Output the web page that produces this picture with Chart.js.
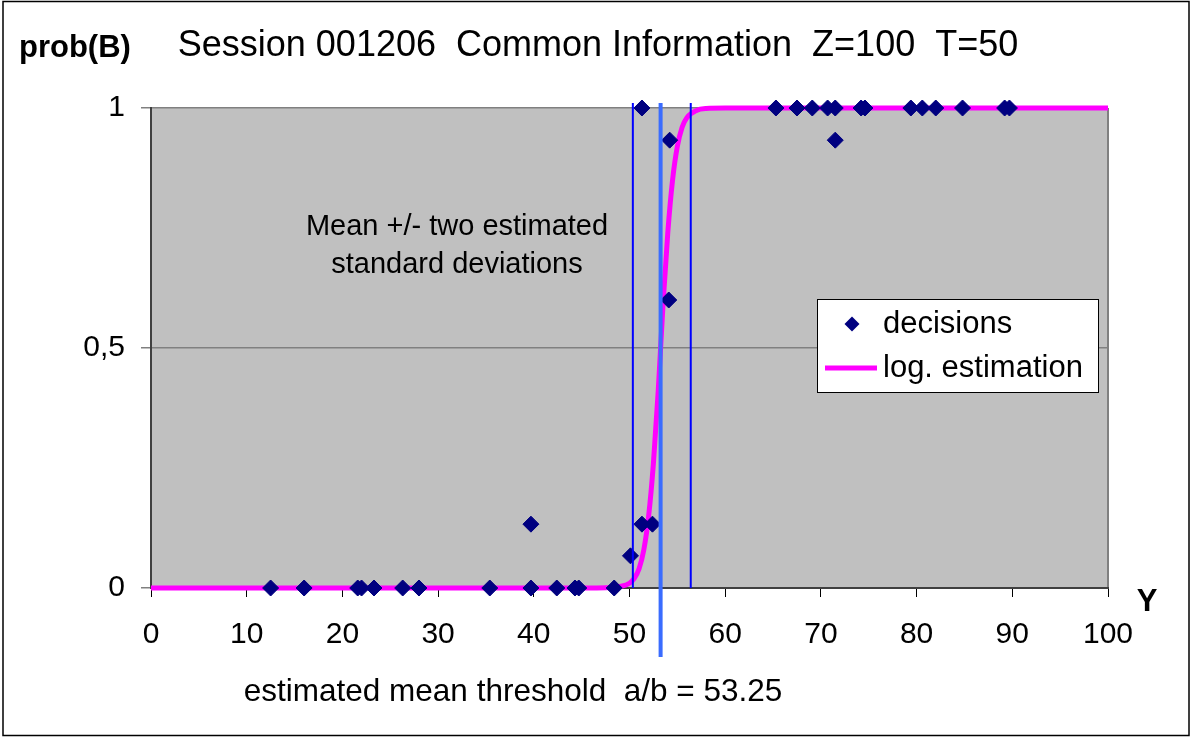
<!DOCTYPE html>
<html>
<head>
<meta charset="utf-8">
<script src="https://cdn.jsdelivr.net/npm/chart.js@4"></script>
<style>
  html, body { margin: 0; padding: 0; background: #fff; }
  canvas { display: block; }
</style>
</head>
<body>
<canvas id="probChart" width="1192" height="737"></canvas>
<script>
// decisions (Y value, share of B choices)
const decisionY = [12.5, 16.0, 21.6, 22.0, 23.3, 26.3, 28.0, 35.4, 39.7, 39.7, 42.4, 44.3, 44.7, 48.4,
                   50.1, 51.3, 52.4, 51.3, 54.1, 54.2, 65.3, 67.5, 69.1, 70.7, 71.5, 71.5, 74.2, 74.6,
                   79.4, 80.6, 82.0, 84.8, 89.2, 89.7];
const decisionP = [0, 0, 0, 0, 0, 0, 0, 0, 0, 0.133, 0, 0, 0, 0,
                   0.067, 0.133, 0.133, 1, 0.6, 0.933, 1, 1, 1, 1, 1, 0.933, 1, 1,
                   1, 1, 1, 1, 1, 1];

// logistic estimation
const curveY = [0, 46, 48, 49, 50, 50.5, 51, 51.5, 52, 52.5, 53, 53.5, 54, 54.5, 55, 55.5, 56, 57, 58, 60, 100];
const curveP = [0, 0, 0.001, 0.003, 0.01, 0.02, 0.04, 0.08, 0.15, 0.26, 0.41, 0.59, 0.74, 0.85, 0.92, 0.96, 0.98, 0.995, 0.999, 1, 1];

const meanThreshold = 53.25;
const bandLow = 50.35;
const bandHigh = 56.4;

const xTicks = [0, 10, 20, 30, 40, 50, 60, 70, 80, 90, 100];
const yTickLabels = { 0: '0', 0.5: '0,5', 1: '1' };

const FONT = '"Liberation Sans", Arial, sans-serif';
Chart.defaults.font.family = FONT;
Chart.defaults.color = '#000';

// -- frame, grey plot area, texts, lines and legend --
const decor = {
  id: 'decor',
  beforeDraw(chart) {
    const { ctx, chartArea: a } = chart;
    ctx.save();
    ctx.fillStyle = '#fff';
    ctx.fillRect(0, 0, chart.width, chart.height);
    ctx.fillStyle = '#c0c0c0';
    ctx.fillRect(a.left, a.top, a.right - a.left, a.bottom - a.top);
    ctx.strokeStyle = '#808080';
    ctx.lineWidth = 2;
    ctx.beginPath();
    ctx.moveTo(a.right, a.bottom);
    ctx.lineTo(a.right, a.top);
    ctx.stroke();
    ctx.restore();
  },
  afterDatasetsDraw(chart) {
    const { ctx, chartArea: a, scales: { x } } = chart;
    ctx.save();
    ctx.strokeStyle = '#0000ff';
    ctx.lineWidth = 2;
    [bandLow, bandHigh].forEach(v => {
      const px = x.getPixelForValue(v);
      ctx.beginPath();
      ctx.moveTo(px, a.top - 5);
      ctx.lineTo(px, a.bottom);
      ctx.stroke();
    });
    ctx.strokeStyle = '#3a6cff';
    ctx.lineWidth = 4;
    const mx = x.getPixelForValue(meanThreshold);
    ctx.beginPath();
    ctx.moveTo(mx, a.top - 5);
    ctx.lineTo(mx, a.bottom + 69);
    ctx.stroke();
    ctx.restore();
  },
  afterDraw(chart) {
    const { ctx } = chart;
    ctx.save();
    // outer border
    ctx.strokeStyle = '#000';
    ctx.lineWidth = 1.5;
    ctx.strokeRect(3, 1.5, 1186, 734);

    ctx.fillStyle = '#000';
    ctx.textBaseline = 'middle';
    ctx.textAlign = 'center';
    ctx.font = '36px ' + FONT;
    ctx.fillText('Session 001206  Common Information  Z=100  T=50', 598, 46);
    ctx.font = '29px ' + FONT;
    ctx.fillText('Mean +/- two estimated', 457, 227);
    ctx.fillText('standard deviations', 457, 265);
    ctx.font = '31.5px ' + FONT;
    ctx.fillText('estimated mean threshold  a/b = 53.25', 513, 692);
    ctx.font = 'bold 31px ' + FONT;
    ctx.textAlign = 'left';
    ctx.fillText('prob(B)', 19, 48);
    ctx.textAlign = 'center';
    ctx.fillText('Y', 1147, 602);

    // legend
    ctx.fillStyle = '#fff';
    ctx.fillRect(817, 299, 281, 93);
    ctx.strokeStyle = '#000';
    ctx.lineWidth = 1;
    ctx.strokeRect(817.5, 299.5, 281, 93);
    ctx.fillStyle = '#000080';
    ctx.beginPath();
    ctx.moveTo(852, 316.5);
    ctx.lineTo(859.5, 324);
    ctx.lineTo(852, 331.5);
    ctx.lineTo(844.5, 324);
    ctx.closePath();
    ctx.fill();
    ctx.strokeStyle = '#ff00ff';
    ctx.lineWidth = 5;
    ctx.beginPath();
    ctx.moveTo(825, 368);
    ctx.lineTo(877, 368);
    ctx.stroke();
    ctx.fillStyle = '#000';
    ctx.textAlign = 'left';
    ctx.font = '31px ' + FONT;
    ctx.fillText('decisions', 883, 324);
    ctx.fillText('log. estimation', 883, 368);
    ctx.restore();
  }
};

new Chart(document.getElementById('probChart').getContext('2d'), {
  type: 'scatter',
  data: {
    datasets: [{
      label: 'decisions',
      data: decisionY.map((v, i) => ({ x: v, y: decisionP[i] })),
      pointStyle: 'rectRot',
      pointRadius: 8,
      pointBackgroundColor: '#000080',
      pointBorderColor: '#000080',
      pointBorderWidth: 1,
      showLine: false,
      clip: false,
      order: 0
    }, {
      label: 'log. estimation',
      data: curveY.map((v, i) => ({ x: v, y: curveP[i] })),
      showLine: true,
      borderColor: '#ff00ff',
      borderWidth: 5,
      pointRadius: 0,
      cubicInterpolationMode: 'monotone',
      clip: false,
      order: 1
    }]
  },
  options: {
    responsive: false,
    animation: false,
    layout: { padding: { top: 108, right: 84, left: 0, bottom: 0 } },
    plugins: { legend: { display: false }, tooltip: { enabled: false } },
    scales: {
      x: {
        type: 'linear',
        min: 0, max: 100,
        afterBuildTicks: s => { s.ticks = xTicks.map(v => ({ value: v })); },
        afterFit: s => { s.height = 149; },
        grid: { drawOnChartArea: false, drawTicks: true, tickLength: 9, color: '#000' },
        border: { color: '#404040', width: 2 },
        ticks: { font: { size: 30 }, padding: 20, maxRotation: 0 }
      },
      y: {
        type: 'linear',
        min: 0, max: 1,
        afterBuildTicks: s => { s.ticks = Object.keys(yTickLabels).map(v => ({ value: +v })); },
        afterFit: s => { s.width = 151; },
        grid: { color: '#808080', lineWidth: 1.5, tickLength: 10 },
        border: { color: '#404040', width: 2 },
        ticks: { font: { size: 30 }, padding: 16, callback: v => yTickLabels[v] }
      }
    }
  },
  plugins: [decor]
});
</script>
</body>
</html>
